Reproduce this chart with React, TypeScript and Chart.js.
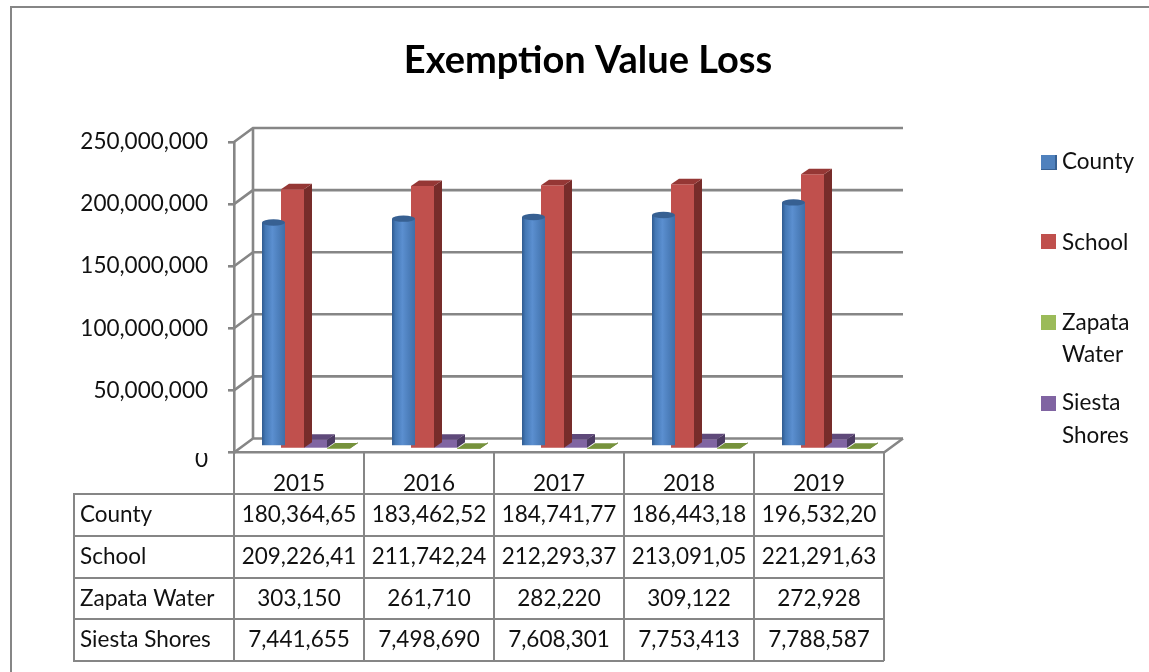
import React, { useEffect, useRef } from "react";
import { Chart, registerables } from "chart.js";

Chart.register(...registerables);

const TITLE = "Exemption Value Loss";
const CLIPPED_HEADER = "property";
const years = ["2015", "2016", "2017", "2018", "2019"];
const county = [180364650, 183462520, 184741770, 186443180, 196532200];
const school = [209226410, 211742240, 212293370, 213091050, 221291630];
const zapataWater = [303150, 261710, 282220, 309122, 272928];
const siestaShores = [7441655, 7498690, 7608301, 7753413, 7788587];
const yTicks = [0, 50000000, 100000000, 150000000, 200000000, 250000000];

const FONT = "Lato, Carlito, sans-serif";
const GRAY = "#868686";
const TEXT = "#111111";
const COUNT_DEPTH = { dx: 8, dy: -5.5 };
const WALL = { dx: 19, dy: -14 };
const BAR_SHIFT = { dx: 5, dy: -3.5 };
const CYLINDER_SHIFT = { dx: 4, dy: -2.5 };

const fmt = (v: number) => v.toLocaleString("en-US").slice(0, 10);

const faces = [
  { side: "", top: "#376092" },
  { side: "#772C2A", top: "#953735" },
  { side: "#5F7530", top: "#76923C" },
  { side: "#4B3A62", top: "#5F497A" },
];
const legendRows = [
  { box: 155, lines: [162] },
  { box: 234, lines: [243] },
  { box: 315, lines: [323, 355] },
  { box: 396, lines: [403, 436] },
];
const rowEdges = [494, 536, 578, 619, 661];

function poly(ctx: CanvasRenderingContext2D, color: string, pts: number[][]) {
  ctx.fillStyle = color;
  ctx.beginPath();
  pts.forEach((p, i) => (i ? ctx.lineTo(p[0], p[1]) : ctx.moveTo(p[0], p[1])));
  ctx.closePath();
  ctx.fill();
}

const scene = {
  id: "scene",
  beforeDatasetsDraw(chart: any) {
    const { ctx, scales } = chart;
    const { x, y } = scales;
    ctx.save();
    ctx.strokeStyle = GRAY;
    ctx.lineWidth = 2.6;
    yTicks.forEach((t) => {
      const py = y.getPixelForValue(t);
      ctx.beginPath();
      ctx.moveTo(x.left, py);
      ctx.lineTo(x.left + WALL.dx, py + WALL.dy);
      ctx.lineTo(x.right + WALL.dx, py + WALL.dy);
      ctx.stroke();
    });
    ctx.beginPath();
    ctx.moveTo(x.left + WALL.dx, y.top + WALL.dy);
    ctx.lineTo(x.left + WALL.dx, y.bottom + WALL.dy);
    ctx.moveTo(x.right, y.bottom);
    ctx.lineTo(x.right + WALL.dx, y.bottom + WALL.dy);
    ctx.stroke();
    ctx.restore();
  },
  beforeDatasetDraw(chart: any, args: any) {
    const s = args.index === 0 ? CYLINDER_SHIFT : { dx: 0, dy: 0 };
    chart.ctx.save();
    chart.ctx.translate(BAR_SHIFT.dx + s.dx, BAR_SHIFT.dy + s.dy);
  },
  afterDatasetDraw(chart: any, args: any) {
    const { ctx } = chart;
    const f = faces[args.index];
    const { dx, dy } = COUNT_DEPTH;
    args.meta.data.forEach((bar: any) => {
      const l = bar.x - bar.width / 2;
      const r = bar.x + bar.width / 2;
      if (args.index === 0) {
        ctx.fillStyle = f.top;
        ctx.beginPath();
        ctx.ellipse(bar.x, bar.y, bar.width / 2, 3.2, 0, 0, Math.PI * 2);
        ctx.fill();
        return;
      }
      poly(ctx, f.side, [[r, bar.y], [r + dx, bar.y + dy], [r + dx, bar.base + dy], [r, bar.base]]);
      poly(ctx, f.top, [[l, bar.y], [r, bar.y], [r + dx, bar.y + dy], [l + dx, bar.y + dy]]);
    });
    ctx.restore();
  },
  afterDraw(chart: any) {
    const { ctx, scales, data } = chart;
    const { x, y } = scales;
    ctx.save();

    ctx.textBaseline = "alphabetic";
    ctx.textAlign = "left";
    ctx.fillStyle = TEXT;
    ctx.font = `25px ${FONT}`;
    ctx.fillText(CLIPPED_HEADER, 7, -4);

    ctx.strokeStyle = GRAY;
    ctx.lineWidth = 2;
    ctx.beginPath();
    ctx.moveTo(11, chart.height);
    ctx.lineTo(11, 7);
    ctx.lineTo(chart.width, 7);
    ctx.stroke();

    ctx.fillStyle = "#000";
    ctx.textAlign = "center";
    ctx.textBaseline = "middle";
    ctx.font = `bold 38px ${FONT}`;
    ctx.fillText(TITLE, 588, 61);

    // Zero label, clipped at the axis as in the source picture
    ctx.save();
    ctx.beginPath();
    ctx.rect(180, y.bottom + 0.5, 40, 24);
    ctx.clip();
    ctx.fillStyle = TEXT;
    ctx.font = `22.5px ${FONT}`;
    ctx.textAlign = "right";
    ctx.fillText("0", 208, y.bottom + 7);
    ctx.restore();

    // Data table
    const colW = (x.right - x.left) / years.length;
    const labelLeft = 74;
    ctx.strokeStyle = GRAY;
    ctx.lineWidth = 2;
    ctx.beginPath();
    for (let i = 0; i <= years.length; i++) {
      ctx.moveTo(x.left + i * colW, y.bottom);
      ctx.lineTo(x.left + i * colW, rowEdges[rowEdges.length - 1]);
    }
    ctx.moveTo(x.right, y.bottom);
    ctx.lineTo(x.right, y.bottom + 8);
    rowEdges.forEach((e) => {
      ctx.moveTo(labelLeft - 1, e);
      ctx.lineTo(x.right, e);
    });
    ctx.moveTo(labelLeft, rowEdges[0]);
    ctx.lineTo(labelLeft, rowEdges[rowEdges.length - 1]);
    ctx.stroke();

    ctx.fillStyle = TEXT;
    ctx.font = `22.5px ${FONT}`;
    data.datasets.forEach((ds: any, r: number) => {
      const cy = (rowEdges[r] + rowEdges[r + 1]) / 2;
      ctx.textAlign = "left";
      ctx.fillText(ds.label, labelLeft + 6, cy);
      ctx.textAlign = "center";
      ds.data.forEach((v: number, c: number) => {
        ctx.fillText(fmt(v), x.getPixelForValue(c), cy);
      });
    });

    // Legend
    data.datasets.forEach((ds: any, r: number) => {
      const row = legendRows[r];
      ctx.fillStyle = ds.legendColor;
      ctx.fillRect(1041, row.box, 15, 15);
      if (r === 0) {
        ctx.fillStyle = faces[0].top;
        ctx.fillRect(1055, row.box, 2, 15);
        ctx.fillRect(1041, row.box + 14, 16, 1);
      }
      ctx.fillStyle = TEXT;
      ctx.textAlign = "left";
      ds.label.split(" ").forEach((part: string, i: number) => {
        ctx.fillText(part, 1062, row.lines[i]);
      });
    });
    ctx.restore();
  },
};

const cylinderFill = (c: any) => {
  const { chart, dataIndex } = c;
  const x = chart.scales.x;
  if (!x || x.width === 0 || !isFinite(x.getPixelForValue(dataIndex))) return "#4F81BD";
  const mid = x.getPixelForValue(dataIndex);
  const g = chart.ctx.createLinearGradient(mid - 46, 0, mid - 23, 0);
  g.addColorStop(0, "#2F5A8F");
  g.addColorStop(0.15, "#4478B5");
  g.addColorStop(0.45, "#5B8FD0");
  g.addColorStop(1, "#3F6FA8");
  return g;
};

export default function App() {
  const ref = useRef<HTMLCanvasElement>(null);
  useEffect(() => {
    const chart = new Chart(ref.current as HTMLCanvasElement, {
      type: "bar",
      data: {
        labels: years,
        datasets: [
          { label: "County", data: county, backgroundColor: cylinderFill, legendColor: "#4F81BD", order: 0 },
          { label: "School", data: school, backgroundColor: "#C0504D", legendColor: "#C0504D", order: 1 },
          { label: "Zapata Water", data: zapataWater, backgroundColor: "#9BBB59", legendColor: "#9BBB59", order: 3 },
          { label: "Siesta Shores", data: siestaShores, backgroundColor: "#8064A2", legendColor: "#8064A2", order: 2 },
        ] as any,
      },
      options: {
        responsive: false,
        animation: false,
        clip: false,
        layout: { padding: { top: 142, right: 265, left: 0, bottom: 0 } },
        datasets: { bar: { categoryPercentage: 92 / 130, barPercentage: 1 } },
        plugins: { legend: { display: false }, title: { display: false }, tooltip: { enabled: false } },
        scales: {
          x: {
            grid: { display: false },
            border: { color: GRAY, width: 2.6 },
            ticks: { color: TEXT, font: { family: FONT, size: 22.5 }, padding: 10, maxRotation: 0 },
            afterFit: (s: any) => { s.height = 219.5; },
          },
          y: {
            min: 0,
            max: 250000000,
            afterBuildTicks: (s: any) => { s.ticks = yTicks.map((value) => ({ value })); },
            grid: { drawOnChartArea: false, color: GRAY, lineWidth: 2.6, tickLength: 6 },
            border: { color: GRAY, width: 2.6 },
            ticks: {
              color: TEXT,
              font: { family: FONT, size: 22.5 },
              padding: 20,
              callback: (v: any) => (v === 0 ? "" : Number(v).toLocaleString("en-US")),
            },
            afterFit: (s: any) => { s.width = 234; },
          },
        },
      } as any,
      plugins: [scene],
    });
    return () => chart.destroy();
  }, []);
  return (
    <div style={{ position: "absolute", left: 0, top: 0, width: 1149, height: 672, background: "#fff" }}>
      <canvas ref={ref} width={1149} height={672} style={{ display: "block" }} />
    </div>
  );
}
